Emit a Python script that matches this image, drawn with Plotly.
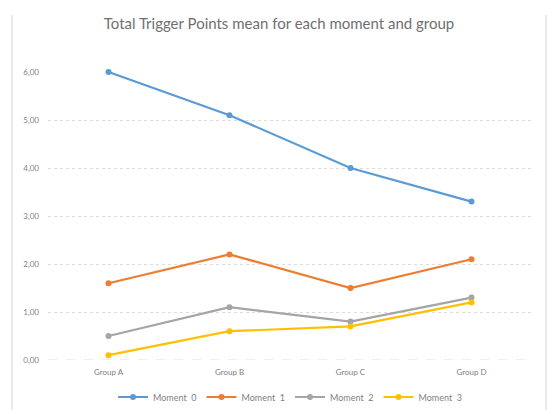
import plotly.graph_objects as go

groups = ["Group A", "Group B", "Group C", "Group D"]
moment0 = [6.0, 5.1, 4.0, 3.3]
moment1 = [1.6, 2.2, 1.5, 2.1]
moment2 = [0.5, 1.1, 0.8, 1.3]
moment3 = [0.1, 0.6, 0.7, 1.2]
series_names = ["Moment  0", "Moment  1", "Moment  2", "Moment  3"]
colors = ["#5B9BD5", "#ED7D31", "#A5A5A5", "#FFC000"]

fig = go.Figure()
for name, vals, c in zip(series_names, [moment0, moment1, moment2, moment3], colors):
    fig.add_trace(go.Scatter(x=groups, y=vals, name=name, mode="lines+markers",
                             line=dict(color=c, width=2.2),
                             marker=dict(color=c, size=6),
                             cliponaxis=False))

W, H = 549, 410
l, r, t, b = 48, 17, 72, 50
pw, ph = W - l - r, H - t - b

def px_x(px):
    return (px - l) / pw

def px_y(py):
    return (H - b - py) / ph

fig.update_layout(
    width=W, height=H,
    margin=dict(l=l, r=r, t=t, b=b, autoexpand=False),
    paper_bgcolor="white", plot_bgcolor="white",
    separators=",.",
    font=dict(family="Lato, Open Sans, sans-serif", color="#7F7F7F", size=8),
    title=dict(text="Total Trigger Points mean for each moment and group",
               x=279 / W, xanchor="center",
               y=1 - 24 / H, yanchor="middle",
               font=dict(size=15, color="#707070")),
    showlegend=True,
    legend=dict(orientation="h", x=0.5, xanchor="center", y=px_y(397), yanchor="middle",
                font=dict(size=9, color="#7F7F7F"), itemwidth=30,
                traceorder="normal"),
    xaxis=dict(showgrid=False, showline=False, zeroline=False, ticks="",
               tickfont=dict(size=8, color="#7F7F7F"), range=[-0.5, 3.5],
               ticklabelstandoff=6),
    yaxis=dict(range=[0, 6], dtick=1, tickformat=".2f", showgrid=True,
               gridcolor="#DDDDDD", griddash="dot", gridwidth=1,
               zeroline=False, showline=False, ticks="",
               tickfont=dict(size=8, color="#7F7F7F"), ticklabelstandoff=8),
)
fig.add_hline(y=0, line=dict(color="#DDDDDD", width=1, dash="dash"), layer="below")

for xp in (12, 546):
    fig.add_shape(type="line", xref="paper", yref="paper",
                  x0=px_x(xp), x1=px_x(xp), y0=px_y(15), y1=px_y(410),
                  line=dict(color="#E3E3E3", width=1.5))

fig.write_html("out.html", config={"displayModeBar": False},
               post_script="document.body.style.margin='0';")
